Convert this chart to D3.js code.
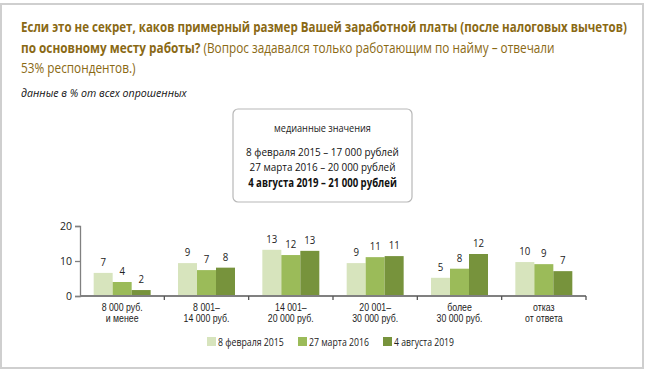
<!DOCTYPE html>
<head>
<meta charset="utf-8">
<style>
body { margin: 0; background: #fff; }
text { font-family: "Open Sans", "Noto Sans", sans-serif; }
</style>
</head>
<body>
<div id="chart"></div>
<script src="https://d3js.org/d3.v7.min.js"></script>
<script>
// categories (two lines each)
var categories = [
  ["8 000 руб.", "и менее"],
  ["8 001–", "14 000 руб."],
  ["14 001–", "20 000 руб."],
  ["20 001–", "30 000 руб."],
  ["более", "30 000 руб."],
  ["отказ", "от ответа"]
];
var seriesNames = ["8 февраля 2015", "27 марта 2016", "4 августа 2019"];
var feb2015 = [6.6, 9.4, 13.2, 9.4, 5.2, 9.7];
var mar2016 = [4.0, 7.4, 11.7, 11.1, 7.8, 9.1];
var aug2019 = [1.7, 8.1, 12.9, 11.4, 12.0, 7.1];
var yTicks = [0, 10, 20];
var colors = ["#d7e4bd", "#9bbb59", "#77933c"];

var medianLines = [
  {text: "8 февраля 2015 – 17 000 рублей", bold: false, w: 153},
  {text: "27 марта 2016 – 20 000 рублей", bold: false, w: 146},
  {text: "4 августа 2019 – 21 000 рублей", bold: true, w: 149}
];

var W = 645, H = 373;
var svg = d3.select("#chart").append("svg")
    .attr("width", W)
    .attr("height", H);

svg.append("rect")
    .attr("x", 1).attr("y", 4)
    .attr("width", 642).attr("height", 364)
    .attr("fill", "#fff")
    .attr("stroke", "#cfcfcf")
    .attr("stroke-width", 2);

// the original is set in a condensed face: squeeze text horizontally
function squeeze(sel, x, y, k) {
  sel.attr("transform", "translate(" + x + "," + y + ") scale(" + k + ",1)");
}
function widthOf(sel) { return sel.node().getComputedTextLength(); }

var gold = "#8a6914";
// title
var t1 = svg.append("text")
    .attr("fill", gold).attr("font-size", 14).attr("font-weight", 700)
    .text("Если это не секрет, каков примерный размер Вашей заработной платы (после налоговых вычетов)");
squeeze(t1, 21, 32, 606 / widthOf(t1));
var t2 = svg.append("text")
    .attr("fill", gold).attr("font-size", 14);
t2.append("tspan").attr("font-weight", 700).text("по основному месту работы?");
t2.append("tspan").text(" (Вопрос задавался только работающим по найму – отвечали");
var k2 = 534 / widthOf(t2);
squeeze(t2, 21, 53, k2);
var t3 = svg.append("text")
    .attr("fill", gold).attr("font-size", 14)
    .text("53% респондентов.)");
squeeze(t3, 21, 73, k2);

var sub = svg.append("text")
    .attr("fill", "#111").attr("font-size", 10.5).attr("font-style", "italic")
    .text("данные в % от всех опрошенных");
squeeze(sub, 21, 97, 166 / widthOf(sub));

// median box
svg.append("rect")
    .attr("x", 233).attr("y", 109)
    .attr("width", 179).attr("height", 93)
    .attr("rx", 5)
    .attr("fill", "#fff")
    .attr("stroke", "#b8b8b8")
    .attr("stroke-width", 1.2);
var mh = svg.append("text")
    .attr("text-anchor", "middle").attr("font-size", 10.5).attr("fill", "#222")
    .text("медианные значения");
squeeze(mh, 322.5, 132, 97 / widthOf(mh));
svg.selectAll(".median")
    .data(medianLines)
  .enter().append("text")
    .attr("class", "median")
    .attr("text-anchor", "middle")
    .attr("font-size", 11.5)
    .attr("font-weight", function(d) { return d.bold ? 700 : 400; })
    .attr("fill", "#111")
    .text(function(d) { return d.text; })
    .each(function(d, i) {
      var s = d3.select(this);
      squeeze(s, 322.5, 156 + i * 15.3, d.w / widthOf(s));
    });

// chart
var x = d3.scaleBand()
    .domain(d3.range(categories.length))
    .range([80, 586])
    .padding(0);
var xs = d3.scaleBand()
    .domain(d3.range(seriesNames.length))
    .range([0, x.bandwidth()])
    .paddingInner(0)
    .paddingOuter(0.72);
var y = d3.scaleLinear()
    .domain([0, 20])
    .range([296, 226]);

var series = [feb2015, mar2016, aug2019];
var fmt = d3.format(".0f");

var groups = svg.selectAll(".grp")
    .data(categories)
  .enter().append("g")
    .attr("class", "grp")
    .attr("transform", function(d, i) { return "translate(" + x(i) + ",0)"; });

groups.selectAll("rect")
    .data(function(d, i) { return series.map(function(s, j) { return {s: j, v: s[i]}; }); })
  .enter().append("rect")
    .attr("x", function(d) { return xs(d.s); })
    .attr("width", xs.bandwidth())
    .attr("y", function(d) { return y(d.v); })
    .attr("height", function(d) { return y(0) - y(d.v); })
    .attr("fill", function(d) { return colors[d.s]; });

groups.selectAll(".val")
    .data(function(d, i) { return series.map(function(s, j) { return {s: j, v: s[i]}; }); })
  .enter().append("text")
    .attr("class", "val")
    .attr("text-anchor", "middle")
    .attr("font-size", 11)
    .attr("fill", "#222")
    .text(function(d) { return fmt(d.v); })
    .each(function(d) {
      squeeze(d3.select(this), xs(d.s) + xs.bandwidth() / 2, y(d.v) - 7, 0.88);
    });

// y axis
var yAxis = svg.append("g")
    .attr("transform", "translate(80,0)")
    .call(d3.axisLeft(y).tickValues(yTicks).tickSize(5).tickPadding(3));
yAxis.select(".domain").attr("stroke", "#808080").attr("stroke-width", 1.3);
yAxis.selectAll(".tick line").attr("stroke", "#808080").attr("stroke-width", 1.3);
yAxis.selectAll("text").attr("font-size", 10.5).attr("fill", "#222")
    .style("font-family", "'Open Sans', sans-serif");

// x axis with ticks at band edges
var xAxis = svg.append("g").attr("class", "xaxis");
xAxis.append("line")
    .attr("x1", 80).attr("x2", 586)
    .attr("y1", y(0)).attr("y2", y(0))
    .attr("stroke", "#808080").attr("stroke-width", 2.2);
xAxis.selectAll(".xt")
    .data(d3.range(1, categories.length + 1))
  .enter().append("line")
    .attr("x1", function(i) { return x(0) + i * x.bandwidth(); })
    .attr("x2", function(i) { return x(0) + i * x.bandwidth(); })
    .attr("y1", y(0)).attr("y2", y(0) + 4)
    .attr("stroke", "#555").attr("stroke-width", 1.3);

// category labels, one text per line; squeeze so "14 000 руб." is 46px wide
var catFont = "'Liberation Sans', Arial, sans-serif";
var probe = svg.append("text").attr("font-size", 10).style("font-family", catFont).text("14 000 руб.");
var kCat = 46 / widthOf(probe);
probe.remove();
categories.forEach(function(c, i) {
  c.forEach(function(l, k) {
    var s = svg.append("text")
        .attr("class", "cat")
        .attr("text-anchor", "middle")
        .attr("font-size", 10)
        .style("font-family", catFont)
        .attr("fill", "#222")
        .text(l);
    squeeze(s, x(i) + x.bandwidth() / 2, 310.5 + k * 11.5, kCat);
  });
});

// legend
var legendX = [207, 298, 383];
var legendW = [66, 60, 60];
var legend = svg.selectAll(".leg")
    .data(seriesNames)
  .enter().append("g")
    .attr("class", "leg")
    .attr("transform", function(d, i) { return "translate(" + legendX[i] + ",337)"; });
legend.append("rect")
    .attr("width", 9).attr("height", 9)
    .attr("fill", function(d, i) { return colors[i]; });
legend.append("text")
    .attr("font-size", 10.5)
    .attr("fill", "#222")
    .text(function(d) { return d; })
    .each(function(d, i) {
      var s = d3.select(this);
      squeeze(s, 11, 8.5, legendW[i] / widthOf(s));
    });
</script>
</body>
</html>
